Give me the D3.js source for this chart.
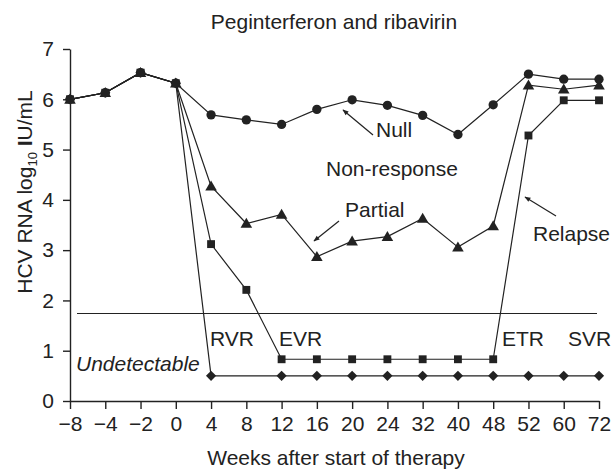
<!DOCTYPE html>
<html>
<head>
<meta charset="utf-8">
<script src="https://d3js.org/d3.v7.min.js"></script>
<style>
  body { margin: 0; background: #fff; }
  text { font-family: "Liberation Sans", Arial, sans-serif; fill: #222; }
</style>
</head>
<body>
<svg width="612" height="469"></svg>
<script>
var weeks = [-8, -4, -2, 0, 4, 8, 12, 16, 20, 24, 32, 40, 48, 52, 60, 72];

// HCV RNA (log10 IU/mL) per response pattern
var nullResp  = [6.0, 6.13, 6.53, 6.32, 5.69, 5.59, 5.5, 5.8, 5.99, 5.88, 5.68, 5.3, 5.89, 6.5, 6.4, 6.4];
var partial   = [6.0, 6.13, 6.53, 6.32, 4.27, 3.53, 3.71, 2.87, 3.18, 3.27, 3.63, 3.06, 3.48, 6.28, 6.2, 6.28];
var relapse   = [6.0, 6.13, 6.53, 6.32, 3.12, 2.21, 0.83, 0.83, 0.83, 0.83, 0.83, 0.83, 0.83, 5.28, 5.98, 5.98];
var responder = [6.0, 6.13, 6.53, 6.32, 0.5, null, 0.5, 0.5, 0.5, 0.5, 0.5, 0.5, 0.5, 0.5, 0.5, 0.5];

var yTicks = [0, 1, 2, 3, 4, 5, 6, 7];
var detectLimit = 1.74;

var svg = d3.select("svg");
var ink = "#222";
var fs = 21;

var x = d3.scalePoint().domain(weeks).range([70, 599]);
var y = d3.scaleLinear().domain([0, 7]).range([401, 49]);

// axes
var xAxis = svg.append("g")
  .attr("transform", "translate(0," + y(0) + ")")
  .call(d3.axisBottom(x).tickSize(8).tickSizeOuter(0).tickPadding(7).tickFormat(d3.format("d")));
var yAxis = svg.append("g")
  .attr("transform", "translate(" + x(-8) + ",0)")
  .call(d3.axisLeft(y).tickValues(yTicks).tickSize(7).tickSizeOuter(0).tickPadding(9).tickFormat(d3.format("d")));

[xAxis, yAxis].forEach(function(g) {
  g.select(".domain").attr("stroke", ink).attr("stroke-width", 1.4);
  g.selectAll(".tick line").attr("stroke", ink).attr("stroke-width", 1.4);
  g.selectAll(".tick text").attr("font-size", fs).attr("fill", ink)
    .style("font-family", "'Liberation Sans', Arial, sans-serif");
});

// detection limit line
svg.append("line")
  .attr("x1", x(-8) + 7).attr("x2", x(72) - 2)
  .attr("y1", y(detectLimit)).attr("y2", y(detectLimit))
  .attr("stroke", ink).attr("stroke-width", 1.2);

var series = [
  {vals: responder, shape: "diamond"},
  {vals: relapse, shape: "square"},
  {vals: partial, shape: "triangle"},
  {vals: nullResp, shape: "circle"}
];

var line = d3.line()
  .x(function(d) { return x(d.w); })
  .y(function(d) { return y(d.v); });

series.forEach(function(s) {
  s.pts = weeks.map(function(w, i) { return {w: w, v: s.vals[i]}; })
    .filter(function(d) { return d.v != null; });
  svg.append("path")
    .attr("d", line(s.pts))
    .attr("fill", "none")
    .attr("stroke", ink)
    .attr("stroke-width", 1.2);
});

var shapes = {
  diamond: d3.symbol(d3.symbolSquare, 52)(),
  square: d3.symbol(d3.symbolSquare, 62)(),
  triangle: d3.symbol(d3.symbolTriangle, 58)(),
  circle: d3.symbol(d3.symbolCircle, 68)()
};

series.forEach(function(s) {
  svg.append("g").selectAll("path")
    .data(s.pts)
    .enter().append("path")
    .attr("d", shapes[s.shape])
    .attr("fill", ink)
    .attr("transform", function(d) {
      var t = "translate(" + x(d.w) + "," + y(d.v) + ")";
      if (s.shape == "diamond") t += " rotate(45)";
      if (s.shape == "triangle") t += " translate(0,1)";
      return t;
    });
});

// arrows
svg.append("defs").append("marker")
  .attr("id", "head")
  .attr("viewBox", "0 0 10 10")
  .attr("refX", 9).attr("refY", 5)
  .attr("markerWidth", 8).attr("markerHeight", 6)
  .attr("markerUnits", "userSpaceOnUse")
  .attr("orient", "auto")
  .append("path")
  .attr("d", "M0,1 L10,5 L0,9 z")
  .attr("fill", ink);

var arrows = [
  [373, 135, 343, 110],
  [339, 221, 314, 241],
  [556, 216, 525, 197]
];
svg.selectAll(".arrow")
  .data(arrows)
  .enter().append("line")
  .attr("x1", function(d) { return d[0]; })
  .attr("y1", function(d) { return d[1]; })
  .attr("x2", function(d) { return d[2]; })
  .attr("y2", function(d) { return d[3]; })
  .attr("stroke", ink).attr("stroke-width", 1.2)
  .attr("marker-end", "url(#head)");

// labels
var labels = [
  {t: "Null", x: 376, y: 137},
  {t: "Non-response", x: 326, y: 176},
  {t: "Partial", x: 345, y: 217},
  {t: "Relapse", x: 533, y: 241},
  {t: "RVR", x: 210, y: 346},
  {t: "EVR", x: 279, y: 346},
  {t: "ETR", x: 502, y: 346},
  {t: "SVR", x: 568, y: 346}
];
svg.selectAll(".lab")
  .data(labels)
  .enter().append("text")
  .attr("x", function(d) { return d.x; })
  .attr("y", function(d) { return d.y; })
  .attr("font-size", fs)
  .text(function(d) { return d.t; });

svg.append("text")
  .attr("x", 76).attr("y", 371)
  .attr("font-size", fs)
  .attr("font-style", "italic")
  .text("Undetectable");

svg.append("text")
  .attr("x", 334).attr("y", 29)
  .attr("text-anchor", "middle")
  .attr("font-size", fs)
  .text("Peginterferon and ribavirin");

svg.append("text")
  .attr("x", 336).attr("y", 465)
  .attr("text-anchor", "middle")
  .attr("font-size", fs)
  .text("Weeks after start of therapy");

var yl = svg.append("text")
  .attr("transform", "translate(32,192) rotate(-90)")
  .attr("text-anchor", "middle")
  .attr("font-size", fs);
yl.append("tspan").text("HCV RNA log");
yl.append("tspan").attr("font-size", 13).attr("dy", 5).text("10");
yl.append("tspan").attr("dy", -5).text(" ");
yl.append("tspan").attr("font-weight", "bold").text("I");
yl.append("tspan").text("U/mL");
</script>
</body>
</html>
